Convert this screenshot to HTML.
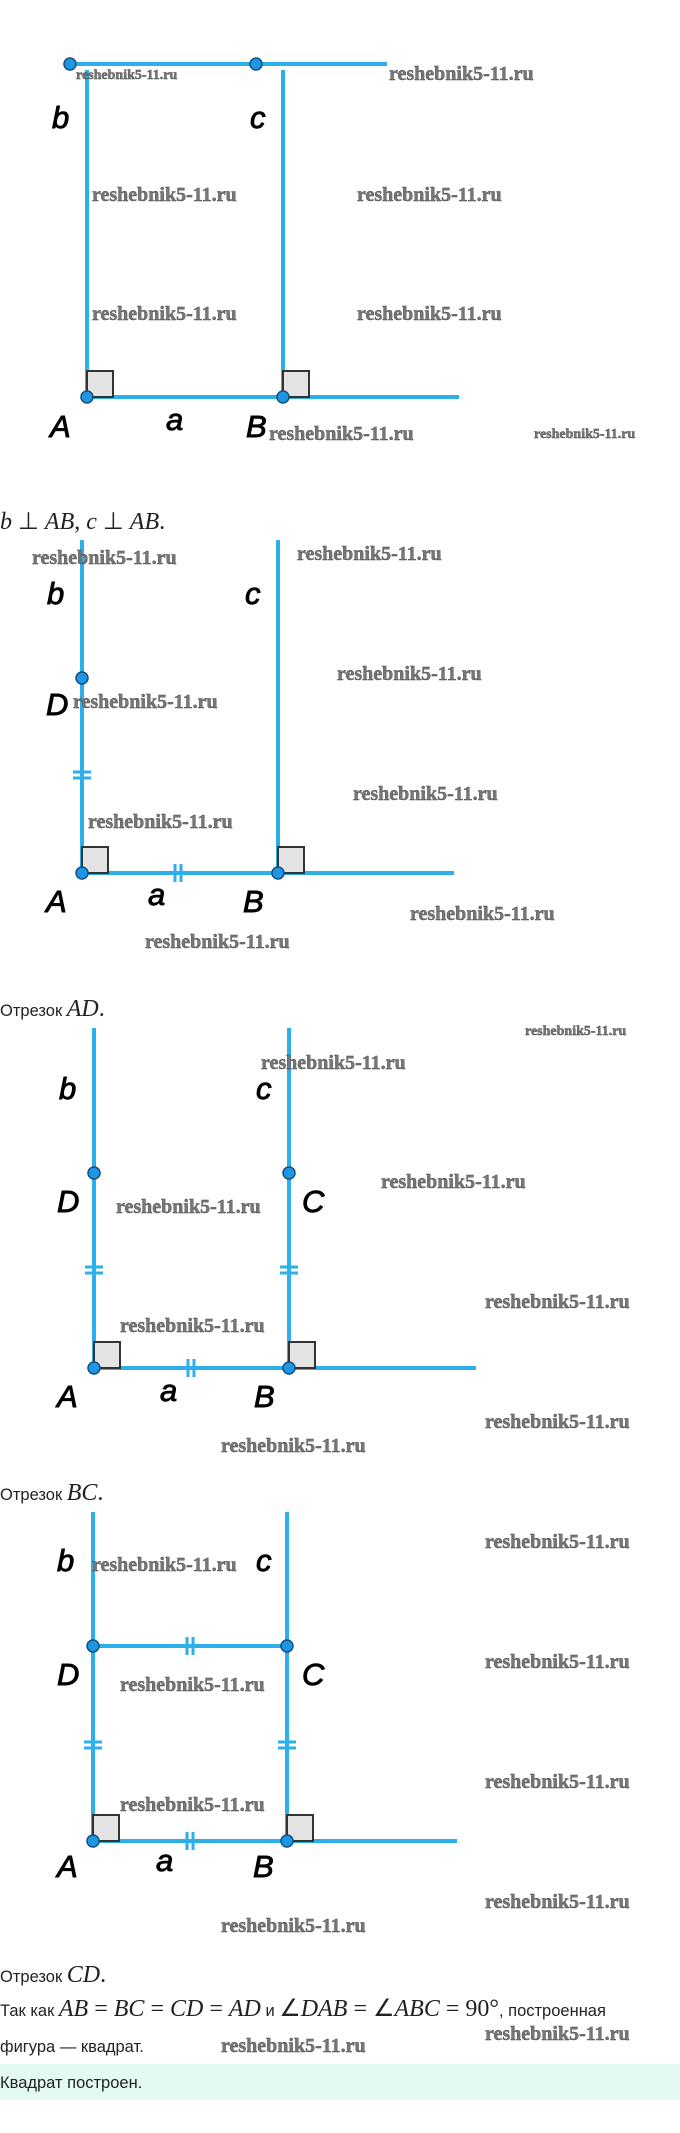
<!DOCTYPE html>
<html><head><meta charset="utf-8"><style>
html,body{margin:0;padding:0;background:#fff;width:680px;height:2133px;overflow:hidden}
svg{position:absolute;left:0;top:0}
.wm{font-family:"Liberation Serif",serif;font-weight:bold;fill:#777;stroke:#444;stroke-width:0.4}
.lb{font-family:"Liberation Sans",sans-serif;font-style:italic;font-size:31px;fill:#000;stroke:#000;stroke-width:0.9}
.tx{font-family:"Liberation Sans",sans-serif;font-size:16.5px;fill:#222}
.m{font-family:"Liberation Serif",serif;font-style:italic;font-size:24px;fill:#222}
.mn{font-family:"Liberation Serif",serif;font-size:24px;fill:#222}
</style></head><body>
<svg width="680" height="2133" viewBox="0 0 680 2133">
<defs>
<g id="sq"><rect x="0" y="-26" width="26" height="26" fill="#e3e3e3" stroke="#333" stroke-width="2"/></g>
</defs>
<g stroke="#2db0ea" stroke-width="4" fill="none">
<line x1="70" y1="64" x2="387" y2="64"/>
<line x1="87" y1="70" x2="87" y2="397"/>
<line x1="283" y1="70" x2="283" y2="397"/>
<line x1="87" y1="397" x2="459" y2="397"/>
<line x1="82" y1="540" x2="82" y2="873"/>
<line x1="278" y1="540" x2="278" y2="873"/>
<line x1="82" y1="873" x2="454" y2="873"/>
<line x1="94" y1="1028" x2="94" y2="1368"/>
<line x1="289" y1="1028" x2="289" y2="1368"/>
<line x1="94" y1="1368" x2="476" y2="1368"/>
<line x1="93" y1="1512" x2="93" y2="1841"/>
<line x1="287" y1="1512" x2="287" y2="1841"/>
<line x1="93" y1="1841" x2="457" y2="1841"/>
<line x1="93" y1="1646" x2="287" y2="1646"/>
</g>
<g stroke="#2db0ea" stroke-width="3">
<line x1="73" y1="772" x2="91" y2="772"/><line x1="73" y1="778" x2="91" y2="778"/>
<line x1="175" y1="864" x2="175" y2="882"/><line x1="181" y1="864" x2="181" y2="882"/>
<line x1="85" y1="1267" x2="103" y2="1267"/><line x1="85" y1="1273" x2="103" y2="1273"/>
<line x1="280" y1="1267" x2="298" y2="1267"/><line x1="280" y1="1273" x2="298" y2="1273"/>
<line x1="188" y1="1359" x2="188" y2="1377"/><line x1="194" y1="1359" x2="194" y2="1377"/>
<line x1="84" y1="1742" x2="102" y2="1742"/><line x1="84" y1="1748" x2="102" y2="1748"/>
<line x1="278" y1="1742" x2="296" y2="1742"/><line x1="278" y1="1748" x2="296" y2="1748"/>
<line x1="187" y1="1832" x2="187" y2="1850"/><line x1="193" y1="1832" x2="193" y2="1850"/>
<line x1="187" y1="1637" x2="187" y2="1655"/><line x1="193" y1="1637" x2="193" y2="1655"/>
</g>
<use href="#sq" x="87" y="397"/><use href="#sq" x="283" y="397"/>
<use href="#sq" x="82" y="873"/><use href="#sq" x="278" y="873"/>
<use href="#sq" x="94" y="1368"/><use href="#sq" x="289" y="1368"/>
<use href="#sq" x="93" y="1841"/><use href="#sq" x="287" y="1841"/>
<g fill="#1e96e6" stroke="#14507a" stroke-width="1.5">
<circle cx="70" cy="64" r="6"/><circle cx="256" cy="64" r="6"/>
<circle cx="87" cy="397" r="6"/><circle cx="283" cy="397" r="6"/>
<circle cx="82" cy="678" r="6"/><circle cx="82" cy="873" r="6"/><circle cx="278" cy="873" r="6"/>
<circle cx="94" cy="1173" r="6"/><circle cx="289" cy="1173" r="6"/><circle cx="94" cy="1368" r="6"/><circle cx="289" cy="1368" r="6"/>
<circle cx="93" cy="1646" r="6"/><circle cx="287" cy="1646" r="6"/><circle cx="93" cy="1841" r="6"/><circle cx="287" cy="1841" r="6"/>
</g>
<g class="lb">
<text x="52" y="128">b</text><text x="250" y="128">c</text>
<text x="50" y="437">A</text><text x="166" y="430">a</text><text x="246" y="437">B</text>
<text x="47" y="604">b</text><text x="245" y="604">c</text><text x="46" y="715">D</text>
<text x="46" y="912">A</text><text x="148" y="905">a</text><text x="243" y="912">B</text>
<text x="59" y="1099">b</text><text x="256" y="1099">c</text><text x="57" y="1212">D</text><text x="302" y="1212">C</text>
<text x="57" y="1407">A</text><text x="160" y="1401">a</text><text x="254" y="1407">B</text>
<text x="57" y="1571">b</text><text x="256" y="1571">c</text><text x="57" y="1685">D</text><text x="302" y="1685">C</text>
<text x="57" y="1877">A</text><text x="156" y="1871">a</text><text x="253" y="1877">B</text>
</g>
<g class="wm" font-size="20">
<text x="389" y="80">reshebnik5-11.ru</text>
<text x="92" y="201">reshebnik5-11.ru</text><text x="357" y="201">reshebnik5-11.ru</text>
<text x="92" y="320">reshebnik5-11.ru</text><text x="357" y="320">reshebnik5-11.ru</text>
<text x="269" y="440">reshebnik5-11.ru</text>
<text x="32" y="564">reshebnik5-11.ru</text><text x="297" y="560">reshebnik5-11.ru</text>
<text x="73" y="708">reshebnik5-11.ru</text><text x="337" y="680">reshebnik5-11.ru</text>
<text x="353" y="800">reshebnik5-11.ru</text><text x="88" y="828">reshebnik5-11.ru</text>
<text x="410" y="920">reshebnik5-11.ru</text><text x="145" y="948">reshebnik5-11.ru</text>
<text x="261" y="1069">reshebnik5-11.ru</text><text x="381" y="1188">reshebnik5-11.ru</text>
<text x="116" y="1213">reshebnik5-11.ru</text><text x="485" y="1308">reshebnik5-11.ru</text>
<text x="120" y="1332">reshebnik5-11.ru</text><text x="485" y="1428">reshebnik5-11.ru</text>
<text x="221" y="1452">reshebnik5-11.ru</text>
<text x="485" y="1548">reshebnik5-11.ru</text><text x="92" y="1571">reshebnik5-11.ru</text>
<text x="485" y="1668">reshebnik5-11.ru</text><text x="120" y="1691">reshebnik5-11.ru</text>
<text x="485" y="1788">reshebnik5-11.ru</text><text x="120" y="1811">reshebnik5-11.ru</text>
<text x="485" y="1908">reshebnik5-11.ru</text><text x="221" y="1932">reshebnik5-11.ru</text>
<text x="485" y="2040">reshebnik5-11.ru</text><text x="221" y="2052">reshebnik5-11.ru</text>
</g>
<g class="wm" font-size="14">
<text x="76" y="79">reshebnik5-11.ru</text>
<text x="534" y="438">reshebnik5-11.ru</text>
<text x="525" y="1035">reshebnik5-11.ru</text>
</g>
<text y="529"><tspan class="m" x="0">b</tspan><tspan class="mn"> ⊥ </tspan><tspan class="m">AB</tspan><tspan class="mn">, </tspan><tspan class="m">c</tspan><tspan class="mn"> ⊥ </tspan><tspan class="m">AB</tspan><tspan class="mn">.</tspan></text>
<text y="1016"><tspan class="tx" x="0">Отрезок </tspan><tspan class="m">AD</tspan><tspan class="mn">.</tspan></text>
<text y="1500"><tspan class="tx" x="0">Отрезок </tspan><tspan class="m">BC</tspan><tspan class="mn">.</tspan></text>
<text y="1982"><tspan class="tx" x="0">Отрезок </tspan><tspan class="m">CD</tspan><tspan class="mn">.</tspan></text>
<text y="2016"><tspan class="tx" x="0">Так как </tspan><tspan class="m">AB</tspan><tspan class="mn"> = </tspan><tspan class="m">BC</tspan><tspan class="mn"> = </tspan><tspan class="m">CD</tspan><tspan class="mn"> = </tspan><tspan class="m">AD</tspan><tspan class="tx"> и </tspan><tspan class="mn">∠</tspan><tspan class="m">DAB</tspan><tspan class="mn"> = ∠</tspan><tspan class="m">ABC</tspan><tspan class="mn"> = 90°</tspan><tspan class="tx">, построенная</tspan></text>
<text class="tx" x="0" y="2052">фигура — квадрат.</text>
<rect x="0" y="2064" width="680" height="36" fill="#e2faef"/>
<text class="tx" x="0" y="2088">Квадрат построен.</text>
</svg>
</body></html>
